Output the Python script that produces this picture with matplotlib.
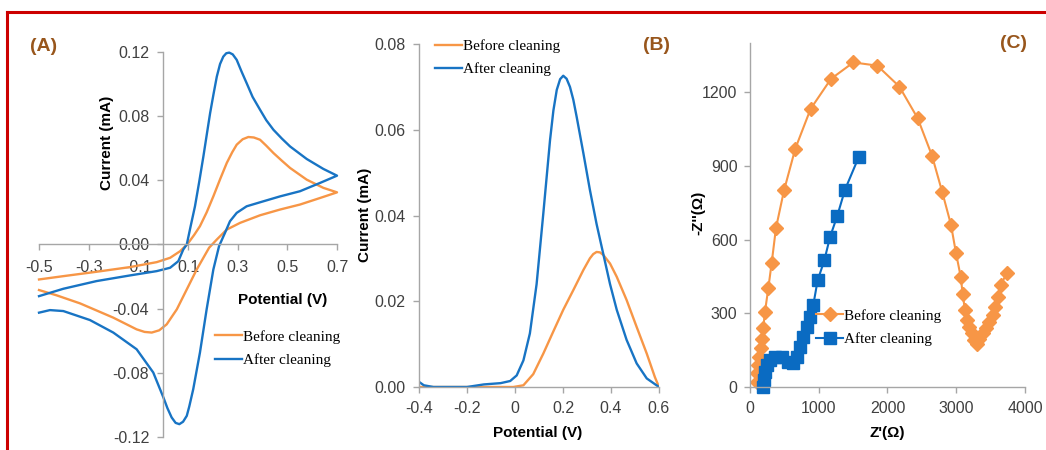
import matplotlib
matplotlib.use("Agg")
import matplotlib.pyplot as plt
from matplotlib.lines import Line2D

# ---- (A) cyclic voltammetry ----
cv_before_fwd_x = [-0.5, -0.4, -0.268, -0.134, -0.026, 0.028, 0.068, 0.098, 0.125, 0.148, 0.175,
                   0.202, 0.23, 0.256, 0.278, 0.296, 0.32, 0.343, 0.365, 0.39, 0.415, 0.444, 0.478,
                   0.511, 0.578, 0.645, 0.7]
cv_before_fwd_y = [-0.0218, -0.0197, -0.017, -0.0141, -0.011, -0.0083, -0.0042, 0.0003, 0.006,
                   0.0114, 0.020, 0.030, 0.041, 0.0508, 0.0575, 0.0622, 0.0656, 0.067, 0.0667,
                   0.0653, 0.0616, 0.057, 0.0522, 0.0477, 0.0404, 0.0353, 0.0325]
cv_before_rev_x = [0.7, 0.632, 0.551, 0.471, 0.39, 0.31, 0.256, 0.216, 0.185, 0.135, 0.095, 0.055,
                   0.014, -0.016, -0.046, -0.075, -0.107, -0.201, -0.335, -0.429, -0.5]
cv_before_rev_y = [0.0325, 0.029, 0.0249, 0.0218, 0.0182, 0.0135, 0.0093, 0.0031, -0.002, -0.0156,
                   -0.028, -0.0404, -0.0498, -0.0535, -0.0549, -0.0545, -0.0529, -0.0456, -0.0367,
                   -0.0317, -0.0284]
cv_after_fwd_x = [-0.5, -0.402, -0.268, -0.134, -0.026, 0.028, 0.061, 0.081, 0.095, 0.11, 0.128,
                  0.145, 0.162, 0.176, 0.189, 0.203, 0.216, 0.229, 0.242, 0.254, 0.266, 0.28, 0.296,
                  0.315, 0.336, 0.36, 0.39, 0.415, 0.444, 0.478, 0.511, 0.578, 0.645, 0.7]
cv_after_fwd_y = [-0.0322, -0.0276, -0.0228, -0.0193, -0.0166, -0.0145, -0.0104, -0.0031, 0.0, 0.011,
                  0.0238, 0.039, 0.055, 0.069, 0.0819, 0.094, 0.1047, 0.1125, 0.1171, 0.1192,
                  0.1196, 0.1185, 0.1151, 0.108, 0.1006, 0.092, 0.084, 0.0775, 0.0715, 0.066,
                  0.0611, 0.0533, 0.0471, 0.0429]
cv_after_rev_x = [0.7, 0.632, 0.551, 0.471, 0.39, 0.336, 0.296, 0.269, 0.249, 0.225, 0.202, 0.175,
                  0.148, 0.121, 0.105, 0.095, 0.08, 0.065, 0.05, 0.034, 0.017, 0.001, -0.04, -0.107,
                  -0.201, -0.295, -0.402, -0.456, -0.5]
cv_after_rev_y = [0.0429, 0.0384, 0.0332, 0.030, 0.0263, 0.0238, 0.0197, 0.0145, 0.0073, -0.001,
                  -0.0156, -0.0404, -0.0674, -0.0902, -0.101, -0.1068, -0.1105, -0.112, -0.1112,
                  -0.1078, -0.102, -0.0954, -0.0798, -0.0653, -0.0549, -0.0471, -0.0415, -0.0409,
                  -0.0425]

# ---- (B) differential pulse voltammetry ----
dpv_after_x = [-0.4, -0.38, -0.34, -0.2, -0.13, -0.06, -0.02, 0.007, 0.035, 0.062, 0.09, 0.118,
               0.146, 0.16, 0.174, 0.188, 0.201, 0.215, 0.229, 0.243, 0.257, 0.285, 0.312, 0.34,
               0.368, 0.396, 0.424, 0.465, 0.507, 0.549, 0.6]
dpv_after_y = [0.0012, 0.0004, 0.0, 0.0, 0.0006, 0.0009, 0.0014, 0.0027, 0.0062, 0.0125, 0.024,
               0.0405, 0.0576, 0.0645, 0.0693, 0.0718, 0.0726, 0.0719, 0.070, 0.067, 0.063,
               0.0545, 0.046, 0.038, 0.031, 0.024, 0.018, 0.011, 0.0055, 0.002, 0.0]
dpv_before_x = [-0.4, -0.2, -0.007, 0.035, 0.076, 0.118, 0.16, 0.201, 0.243, 0.285, 0.312, 0.326,
                0.34, 0.354, 0.368, 0.396, 0.424, 0.465, 0.507, 0.549, 0.583, 0.6]
dpv_before_y = [0.0, 0.0, 0.0, 0.0004, 0.003, 0.0078, 0.013, 0.018, 0.0226, 0.0273, 0.030, 0.031,
                0.0315, 0.0314, 0.0308, 0.0288, 0.0257, 0.0203, 0.014, 0.0078, 0.0023, 0.0]

# ---- (C) Nyquist plot ----
eis_before_re = [97, 106, 121, 135, 156, 175, 193, 218, 266, 316, 378, 495, 659, 882, 1178, 1503,
                 1852, 2172, 2439, 2647, 2798, 2924, 2996, 3065, 3094, 3127, 3161, 3190, 3225,
                 3263, 3297, 3335, 3385, 3433, 3481, 3530, 3564, 3612, 3651, 3734]
eis_before_im = [22, 56, 89, 123, 157, 194, 239, 306, 401, 506, 647, 800, 970, 1132, 1254, 1321,
                 1308, 1223, 1094, 942, 792, 660, 546, 449, 378, 313, 273, 244, 220, 191, 175, 195,
                 220, 240, 266, 293, 327, 367, 415, 465]
eis_after_re = [195, 204, 218, 243, 291, 364, 461, 557, 630, 679, 727, 776, 824, 873, 921, 984,
                1081, 1164, 1270, 1382, 1585]
eis_after_im = [0, 28, 62, 89, 110, 121, 121, 103, 96, 123, 164, 205, 245, 286, 334, 434, 515,
                610, 697, 803, 938]

labels = ["Before cleaning", "After cleaning"]
orange = "#F79646"
blue = "#1874C4"
blue_c = "#0A6BC2"
gray = "#A6A6A6"
tick_col = "#404040"
brown = "#98561C"

plt.rcParams["font.family"] = ["Liberation Sans", "DejaVu Sans"]

fig = plt.figure(figsize=(10.46, 4.5), dpi=100)
axA = fig.add_axes([0.0373, 0.0289, 0.2849, 0.8556])
axB = fig.add_axes([0.4006, 0.14, 0.2294, 0.7622])
axC = fig.add_axes([0.717, 0.14, 0.2629, 0.7644])


def style(ax):
    for s in ["top", "right"]:
        ax.spines[s].set_visible(False)
    for s in ["left", "bottom"]:
        ax.spines[s].set_color(gray)
        ax.spines[s].set_linewidth(1.0)
    ax.tick_params(direction="out", length=4, width=1, color=gray,
                   labelsize=11.5, labelcolor=tick_col, pad=4)


leg_font = {"family": "Liberation Serif", "size": 11}
leg_kw = dict(frameon=False, prop=leg_font, handlelength=1.8, handletextpad=0.05,
              labelspacing=0.62, borderpad=0, borderaxespad=0)

# (A)
axA.plot(cv_before_fwd_x + cv_before_rev_x, cv_before_fwd_y + cv_before_rev_y,
         color=orange, lw=1.7, label=labels[0], clip_on=False)
axA.plot(cv_after_fwd_x + cv_after_rev_x, cv_after_fwd_y + cv_after_rev_y,
         color=blue, lw=1.7, label=labels[1], clip_on=False)
axA.set_xlim(-0.5, 0.7)
axA.set_ylim(-0.12, 0.12)
style(axA)
axA.spines["left"].set_position(("data", 0))
axA.spines["bottom"].set_position(("data", 0))
axA.tick_params(axis="x", pad=7)
axA.tick_params(axis="y", pad=6)
axA.set_xticks([-0.5, -0.3, -0.1, 0.1, 0.3, 0.5, 0.7])
axA.set_xticklabels(["-0.5", "-0.3", "-0.1", "0.1", "0.3", "0.5", "0.7"])
axA.set_yticks([-0.12, -0.08, -0.04, 0.0, 0.04, 0.08, 0.12])
axA.set_yticklabels(["-0.12", "-0.08", "-0.04", "0.00", "0.04", "0.08", "0.12"])
axA.text(0.228, 0.764, "Current (mA)", rotation=90, ha="center", va="center",
         fontsize=11, fontweight="bold", transform=axA.transAxes)
axA.text(0.819, 0.356, "Potential (V)", ha="center", va="center",
         fontsize=11, fontweight="bold", transform=axA.transAxes)
axA.legend(loc="center left", bbox_to_anchor=(0.59, 0.23), **leg_kw)

# (B)
axB.plot(dpv_before_x, dpv_before_y, color=orange, lw=1.7, label=labels[0])
axB.plot(dpv_after_x, dpv_after_y, color=blue, lw=1.7, label=labels[1])
axB.set_xlim(-0.4, 0.6)
axB.set_ylim(0, 0.08)
style(axB)
axB.tick_params(axis="x", pad=6)
axB.tick_params(axis="y", pad=6)
axB.set_xticks([-0.4, -0.2, 0, 0.2, 0.4, 0.6])
axB.set_xticklabels(["-0.4", "-0.2", "0", "0.2", "0.4", "0.6"])
axB.set_yticks([0, 0.02, 0.04, 0.06, 0.08])
axB.set_yticklabels(["0.00", "0.02", "0.04", "0.06", "0.08"])
axB.text(-0.225, 0.501, "Current (mA)", rotation=90, ha="center", va="center",
         fontsize=11, fontweight="bold", transform=axB.transAxes)
axB.text(0.496, -0.134, "Potential (V)", ha="center", va="center",
         fontsize=11, fontweight="bold", transform=axB.transAxes)
axB.legend(loc="center left", bbox_to_anchor=(0.066, 0.96), **leg_kw)

# (C)
axC.plot(eis_before_re, eis_before_im, color=orange, lw=1.5, marker="D", ms=7,
         label=labels[0], clip_on=False)
axC.plot(eis_after_re, eis_after_im, color=blue_c, lw=1.5, marker="s", ms=8,
         label=labels[1], clip_on=False)
axC.set_xlim(0, 4000)
axC.set_ylim(0, 1400)
style(axC)
axC.tick_params(axis="x", pad=6)
axC.tick_params(axis="y", pad=5)
axC.set_xticks([0, 1000, 2000, 3000, 4000])
axC.set_yticks([0, 300, 600, 900, 1200])
axC.text(-0.189, 0.506, "-Z''(Ω)", rotation=90, ha="center", va="center",
         fontsize=11, fontweight="bold", transform=axC.transAxes)
axC.text(0.498, -0.134, "Z'(Ω)", ha="center", va="center",
         fontsize=11, fontweight="bold", transform=axC.transAxes)
axC.legend(loc="center left", bbox_to_anchor=(0.24, 0.173), **leg_kw)

# panel letters
fig.text(0.0414, 0.896, "(A)", color=brown, fontsize=14, fontweight="bold", ha="center", va="center")
fig.text(0.628, 0.90, "(B)", color=brown, fontsize=14, fontweight="bold", ha="center", va="center")
fig.text(0.9688, 0.904, "(C)", color=brown, fontsize=14, fontweight="bold", ha="center", va="center")

# red frame (top and left edges)
fig.add_artist(Line2D([0.0067, 1.0], [0.9733, 0.9733], transform=fig.transFigure,
                      color="#CC0000", lw=2.2))
fig.add_artist(Line2D([0.0067, 0.0067], [0.0, 0.9733], transform=fig.transFigure,
                      color="#CC0000", lw=2.2))

fig.savefig("out.png", dpi=100)
